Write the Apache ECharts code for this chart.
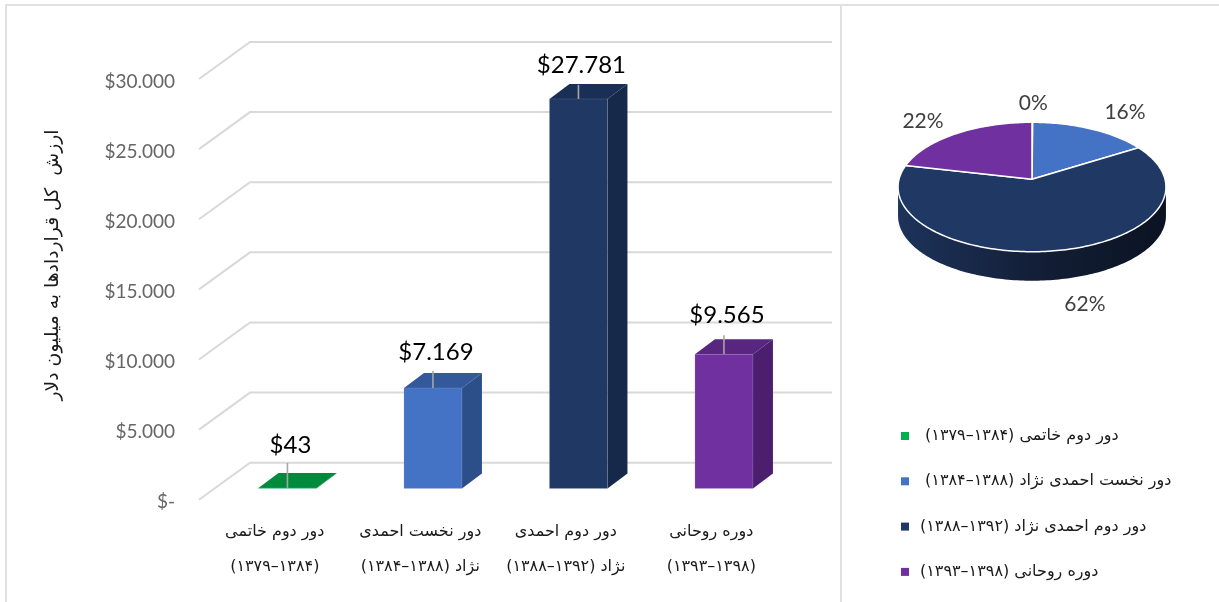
<!DOCTYPE html>
<html lang="fa">
<head>
<meta charset="utf-8">
<style>
html,body{margin:0;padding:0;background:#fff;width:1219px;height:602px;overflow:hidden}
#c{width:1219px;height:602px;direction:rtl}
</style>
<script src="https://cdn.jsdelivr.net/npm/echarts@6/dist/echarts.min.js"></script>
</head>
<body>
<div id="c"></div>
<script>
var categories = [
  'دور دوم خاتمی\n(۱۳۸۴–۱۳۷۹)',
  'دور نخست احمدی\nنژاد (۱۳۸۸–۱۳۸۴)',
  'دور دوم احمدی\nنژاد (۱۳۹۲–۱۳۸۸)',
  'دوره روحانی\n(۱۳۹۸–۱۳۹۳)'
];
var values = [43, 7169, 27781, 9565];
var valueLabels = ['$43', '$7.169', '$27.781', '$9.565'];
var pieLabels = ['0%', '16%', '62%', '22%'];
var yTicks = [0, 5000, 10000, 15000, 20000, 25000, 30000];
var yTitle = 'ارزش  کل قراردادها به میلیون دلار';

var legendColors = ['#00b050', '#4472c4', '#1f3864', '#7030a0'];
var frontColors  = ['#00b050', '#4472c4', '#1f3864', '#7030a0'];
var sideColors   = ['#006b30', '#2c4f8a', '#16294a', '#4c1f6e'];
var topColors    = ['#008a3c', '#33599a', '#1a2f55', '#582680'];
var leaderLen    = [25, 17, 14, 19];
var labelLift    = [43, 36, 34, 39];
/* label nudges from the pie rim at each slice's middle angle */
var pieLabelNudge = [[1, -19], [34, -17], [28, 54], [-33, -12]];

var DEPTH_X = 51, DEPTH_Y = 37;      /* floor depth front -> back wall */
var BAR_SHIFT_X = 15.7, BAR_SHIFT_Y = 11.2; /* bars stand this far into the floor */
var BAR_W = 58, BAR_DX = 20, BAR_DY = 15;

var legendNames = categories.map(function (c) { return c.replace('\n', ' '); });

function wallSeries() {
  return {
    type: 'custom', coordinateSystem: 'cartesian2d', z: 1, silent: true,
    data: yTicks.map(function (t) { return [0, t]; }),
    encode: { x: 0, y: 1 },
    renderItem: function (params, api) {
      var y = api.coord([0, api.value(1)])[1];
      var r = params.coordSys;
      return {
        type: 'polyline',
        shape: { points: [[r.x, y], [r.x + DEPTH_X, y - DEPTH_Y], [r.x + r.width + DEPTH_X, y - DEPTH_Y]] },
        style: { stroke: '#d9d9d9', lineWidth: 2, fill: null }
      };
    }
  };
}

function barSeries(i) {
  return {
    name: legendNames[i], type: 'custom', coordinateSystem: 'cartesian2d', z: 3,
    itemStyle: { color: legendColors[i] },
    data: [[categories[i], values[i]]],
    encode: { x: 0, y: 1 },
    renderItem: function (params, api) {
      var top = api.coord([i, api.value(1)]);
      var base = api.coord([i, 0]);
      var x0 = top[0] + BAR_SHIFT_X - BAR_W / 2, x1 = x0 + BAR_W;
      var yt = top[1] - BAR_SHIFT_Y, yb = base[1] - BAR_SHIFT_Y;
      var dx = BAR_DX, dy = BAR_DY, cx = (x0 + x1) / 2;
      var edge = 'rgba(200,210,235,0.3)';
      return {
        type: 'group',
        children: [
          { type: 'polygon', shape: { points: [[x1, yb], [x1 + dx, yb - dy], [x1 + dx, yt - dy], [x1, yt]] },
            style: { fill: sideColors[i] } },
          { type: 'polygon', shape: { points: [[x0, yt], [x0 + dx, yt - dy], [x1 + dx, yt - dy], [x1, yt]] },
            style: { fill: topColors[i] } },
          { type: 'rect', shape: { x: x0, y: yt, width: BAR_W, height: yb - yt },
            style: { fill: frontColors[i], stroke: edge, lineWidth: 0.5 } },
          { type: 'line', shape: { x1: cx, y1: yt, x2: cx, y2: yt - leaderLen[i] },
            style: { stroke: '#a6a6a6', lineWidth: 1.6 } },
          { type: 'text', x: cx + 3, y: yt - labelLift[i],
            style: { text: valueLabels[i], font: '24px Lato', fill: '#000', align: 'center', verticalAlign: 'middle' } }
        ]
      };
    }
  };
}

/* tilted pie */
var total = values.reduce(function (a, b) { return a + b; }, 0);
var PX = 1032, PY = 179.3, PA = 133, PB = 63.8, PK = 0.119, PDEPTH = 29;
function rim(theta, dy) {
  var w = 1 + PK * Math.cos(theta);
  return [PX + PA * Math.sin(theta) / w, PY - PB * Math.cos(theta) / w + (dy || 0)];
}
function arc(a0, a1, dy) {
  var n = Math.max(2, Math.ceil(Math.abs(a1 - a0) / 0.02)), pts = [];
  for (var k = 0; k <= n; k++) pts.push(rim(a0 + (a1 - a0) * k / n, dy));
  return pts;
}
function pieSeries() {
  return {
    type: 'custom', coordinateSystem: 'none', z: 3, silent: true,
    data: values.map(function (v, i) { return [i, v]; }),
    renderItem: function (params, api) {
      var idx = params.dataIndex, start = 0;
      for (var j = 0; j < idx; j++) start += values[j];
      var a0 = start / total * 2 * Math.PI, a1 = (start + values[idx]) / total * 2 * Math.PI;
      var mid = (a0 + a1) / 2, lab = rim(mid), children = [];
      /* side wall: only the near half of the rim is visible */
      var s0 = Math.max(a0, Math.PI / 2 + 0.119), s1 = Math.min(a1, 3 * Math.PI / 2 - 0.119);
      if (s1 > s0) {
        var upper = arc(s0, s1, 0), lower = arc(s1, s0, PDEPTH);
        children.push({
          type: 'polygon', z2: 1, shape: { points: upper.concat(lower) },
          style: { fill: { type: 'linear', x: 0, y: 0, x2: 1, y2: 0, colorStops: [
            { offset: 0, color: '#1d335b' }, { offset: 0.5, color: '#131f38' }, { offset: 1, color: '#0b1322' }] } }
        });
      }
      children.push({
        type: 'polygon', z2: 2, shape: { points: [[PX, PY]].concat(arc(a0, a1, 0)) },
        style: { fill: legendColors[idx], stroke: '#fff', lineWidth: 1.5, lineJoin: 'round' }
      });
      children.push({
        type: 'text', z2: 3, x: lab[0] + pieLabelNudge[idx][0], y: lab[1] + pieLabelNudge[idx][1],
        style: { text: pieLabels[idx], font: '21px Lato', fill: '#404040',
          align: 'center', verticalAlign: 'middle' }
      });
      return { type: 'group', children: children };
    }
  };
}

var series = [wallSeries()];
values.forEach(function (v, i) { series.push(barSeries(i)); });
series.push(pieSeries());

var chart = echarts.init(document.getElementById('c'));
chart.setOption({
  animation: false,
  backgroundColor: '#fff',
  grid: { left: 199, top: 79, width: 582, height: 420.7, containLabel: false },
  xAxis: {
    type: 'category', data: categories,
    axisLine: { show: false }, axisTick: { show: false }, splitLine: { show: false },
    axisLabel: { margin: 15, lineHeight: 35, fontSize: 16, color: '#1a1a1a',
      fontFamily: 'DejaVu Sans', interval: 0, padding: [0, 0, 0, 6] }
  },
  yAxis: {
    type: 'value', min: 0, max: 30000, interval: 5000,
    axisLine: { show: false }, axisTick: { show: false }, splitLine: { show: false },
    axisLabel: { margin: 24, align: 'right',
      rich: { t: { fontSize: 19, fontFamily: 'Lato', color: '#666', padding: [5, 0, 0, 0] } },
      formatter: function (v) { return '{t|' + (v === 0 ? '\u200e$-\u200e' : '$' + (v / 1000).toFixed(3)) + '}'; } }
  },
  legend: {
    orient: 'vertical', left: 901, top: 426, padding: 0, icon: 'rect', itemWidth: 8, itemHeight: 8,
    itemGap: 25.3, selectedMode: false, data: legendNames,
    formatter: function (name) { return legendNames.indexOf(name) < 2 ? name + '\u00a0' : name; },
    textStyle: { fontSize: 16, lineHeight: 20, color: '#1a1a1a', fontFamily: 'DejaVu Sans', padding: [0, 0, 0, 6] }
  },
  graphic: [
    { type: 'polyline', silent: true, z: 0,
      shape: { points: [[6, 602], [6, 5], [1219, 5]] },
      style: { stroke: '#e0e0e0', lineWidth: 2, fill: null } },
    { type: 'line', silent: true, z: 0,
      shape: { x1: 841, y1: 5, x2: 841, y2: 602 },
      style: { stroke: '#e0e0e0', lineWidth: 2 } },
    { type: 'text', silent: true, x: 53, y: 265, rotation: Math.PI / 2,
      style: { text: yTitle, font: '18.8px "DejaVu Sans"', fill: '#1a1a1a', align: 'center', verticalAlign: 'middle' } }
  ],
  series: series
});
</script>
</body>
</html>
